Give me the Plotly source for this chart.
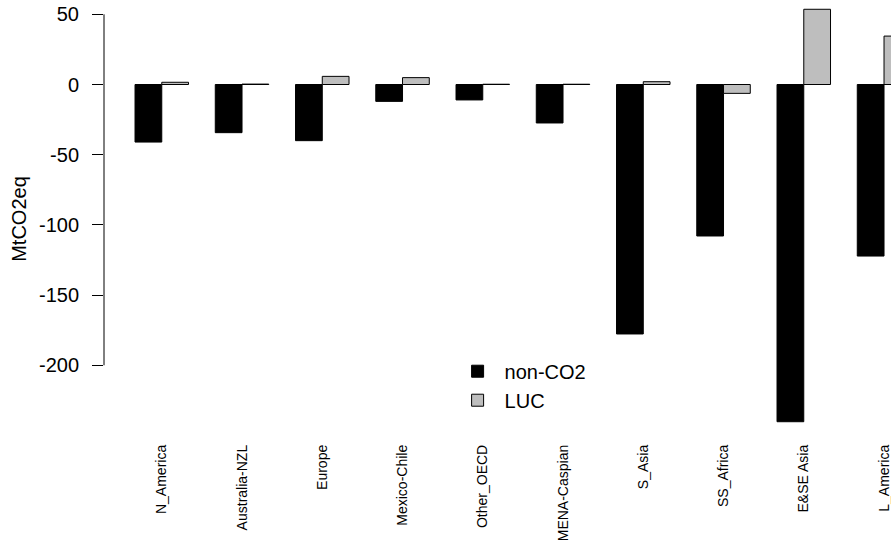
import plotly.graph_objects as go

# Regional mitigation effects (MtCO2eq)
regions = ["N_America", "Australia-NZL", "Europe", "Mexico-Chile", "Other_OECD",
           "MENA-Caspian", "S_Asia", "SS_Africa", "E&SE Asia", "L_America"]
non_co2 = [-41.0, -34.3, -40.0, -12.0, -11.0, -27.4, -177.7, -107.9, -240.2, -122.2]
luc = [1.6, 0.3, 5.8, 4.9, 0.2, 0.2, 2.0, -6.3, 53.6, 34.5]

y_ticks = [-200, -150, -100, -50, 0, 50]

FONT = "Liberation Sans, Arial, sans-serif"

fig = go.Figure()
fig.add_trace(go.Bar(
    name="non-CO2", x=regions, y=non_co2,
    marker=dict(color="black", line=dict(color="black", width=1)),
))
fig.add_trace(go.Bar(
    name="LUC", x=regions, y=luc,
    marker=dict(color="#BEBEBE", line=dict(color="black", width=1)),
))

# y axis line spans only the tick range
fig.add_shape(type="line", xref="paper", yref="y",
              x0=0, x1=0, y0=min(y_ticks), y1=max(y_ticks),
              line=dict(color="black", width=1))

fig.update_layout(
    width=891, height=544,
    margin=dict(l=104, r=0, t=0, b=106),
    paper_bgcolor="white", plot_bgcolor="white",
    barmode="group", bargap=1/3, bargroupgap=0,
    font=dict(family=FONT, color="black"),
    showlegend=True,
    legend=dict(x=0.4404, y=0.197, xanchor="left", yanchor="top",
                font=dict(size=20, family=FONT, color="black"),
                bgcolor="rgba(0,0,0,0)", borderwidth=0,
                itemwidth=44, tracegroupgap=0),
    xaxis=dict(
        type="category", range=[-0.72, 9.087],
        showline=False, showgrid=False, zeroline=False,
        ticks="", tickangle=-90, ticklabelstandoff=3,
        tickfont=dict(size=14, family=FONT, color="black"),
        fixedrange=True,
    ),
    yaxis=dict(
        range=[-251.8, 60.2],
        tickvals=y_ticks, ticktext=[str(v) for v in y_ticks],
        ticks="outside", ticklen=11, tickcolor="black", tickwidth=1,
        ticklabelstandoff=9,
        showline=False, showgrid=False, zeroline=False,
        tickfont=dict(size=20, family=FONT, color="black"),
        title=dict(text="MtCO2eq", font=dict(size=20, family=FONT, color="black"),
                   standoff=6),
        automargin=False,
    ),
)

fig.write_html("out.html")
